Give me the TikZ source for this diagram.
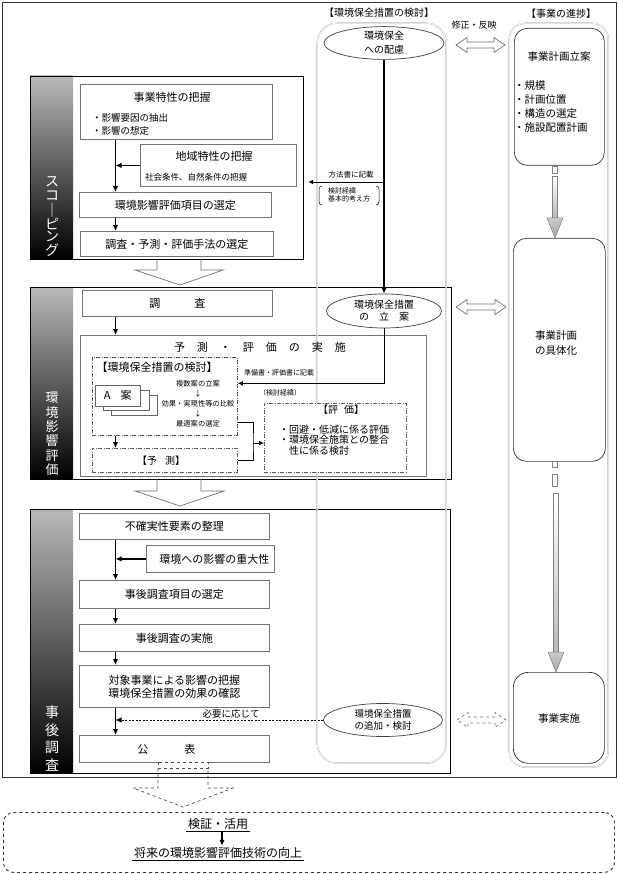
\documentclass[tikz,border=0pt]{standalone}
\usepackage{fontspec}
\setmainfont{Noto Sans CJK JP}
\usetikzlibrary{arrows.meta,shapes.geometric}
\newcommand{\fsz}[2]{\fontsize{#1}{#2}\selectfont}
\newcommand{\boxnode}[7][]{\node[#1, anchor=north west, minimum width={#4-#2}, minimum height={#5-#3}] (#6) at (#2,#3) {#7};}
\newcommand{\dblarrow}[4][]{\draw[#1] (#2,#4) -- ++(11,-7.5) -- ++(0,4.5) -- ({#3-11},{#4-3}) -- ++(0,-4.5) -- (#3,#4) -- ++(-11,7.5) -- ++(0,-4.5) -- ({#2+11},{#4+3}) -- ++(0,4.5) -- cycle;}
\newcommand{\garrow}[4]{\shade[top color=white, bottom color=gray!55, draw=gray, line width=0.5pt] ({#1-2.5},#2) rectangle ({#1+2.5},#3);
 \shade[top color=gray!40, bottom color=gray!70, draw=gray, line width=0.5pt] ({#1-8},#3) -- ({#1+8},#3) -- (#1,#4) -- cycle;}
\tikzset{
 frame/.style={draw=black!80, line width=0.9pt},
 sect/.style={draw=black, line width=1.2pt, inner sep=0pt},
 ibox/.style={draw=black!55, fill=white, line width=0.8pt, inner sep=0pt, font=\fsz{11}{13}},
 ddbox/.style={draw=black!65, dash pattern=on 4pt off 1.5pt on 1pt off 1.5pt, line width=0.8pt, inner sep=0pt},
 col/.style={draw=gray!60, double=white, double distance=0.7pt, line width=0.35pt, inner sep=0pt},
 rbox/.style={draw=black!80, fill=white, line width=0.7pt, rounded corners=13pt, inner sep=0pt},
 ell/.style={ellipse, draw=black!75, fill=white, line width=0.7pt, inner sep=0pt, align=center},
 flow/.style={-{Latex[length=6pt,width=5.5pt]}, line width=1.2pt},
 arr/.style={-{Latex[length=5pt,width=4.5pt]}, line width=0.7pt},
 harrow/.style={draw=black!55, line width=0.7pt},
 txt/.style={inner sep=0pt, align=center},
 striptxt/.style={inner sep=0pt, align=center, text=white},
}
\begin{document}
\begin{tikzpicture}[x=1pt,y=-1pt]
\useasboundingbox (0,0) rectangle (618,874);
\fill[white] (0,0) rectangle (618,874);
% outer frame
\draw[frame] (2,2) rectangle (616,777);
% strips
\shade[top color=gray!55, middle color=gray!15, bottom color=black] (30,76) rectangle (73,259);
\shade[top color=gray!55, middle color=gray!15, bottom color=black] (30,287) rectangle (73,479);
\shade[top color=gray!55, middle color=gray!15, bottom color=black] (30,509) rectangle (73,773);
% sections
\boxnode[sect]{30}{76}{303}{259}{S1}{}
\boxnode[sect]{30}{287}{451}{479}{S2}{}
\boxnode[sect]{30}{509}{450}{773}{S3}{}
\node[striptxt, font=\fsz{14}{14}] at (52,182) {ス};
\node[striptxt, font=\fsz{14}{14}] at (52,196) {コ};
\node[striptxt, font=\fsz{14}{14}] at (52,210) {｜};
\node[striptxt, font=\fsz{14}{14}] at (52,224) {ピ};
\node[striptxt, font=\fsz{14}{14}] at (52,237) {ン};
\node[striptxt, font=\fsz{14}{14}] at (52,250) {グ};
\node[striptxt, font=\fsz{13}{14.4}] at (52,434) {環\\境\\影\\響\\評\\価};
\node[striptxt, font=\fsz{14}{17.7}] at (52,738.5) {事\\後\\調\\査};
% prediction/evaluation frame
\boxnode[ibox]{80}{335}{426}{476}{B6}{}
% columns
\boxnode[col, rounded corners=20pt]{317}{23}{446}{763}{C1}{}
\boxnode[col, rounded corners=16pt]{509}{23}{608}{767}{C2}{}
\node[txt, font=\fsz{10}{12}] at (379,13) {【環境保全措置の検討】};
\node[txt, font=\fsz{10}{12}] at (561,14) {【事業の進捗】};
\node[txt, font=\fsz{9}{11}] at (474,25) {修正・反映};
% double arrows
\dblarrow[harrow, fill=white]{456}{505}{45}
\dblarrow[harrow, fill=white]{456}{506}{307}
\dblarrow[harrow, dashed, fill=white]{457}{506}{720}
% right column boxes
\boxnode[rbox]{514}{28}{604}{165}{P1}{}
\node[txt, font=\fsz{10.5}{12}] at (559,57) {事業計画立案};
\node[txt, anchor=west, align=left, font=\fsz{10.5}{14.3}] at (514,106.5) {・規模\\・計画位置\\・構造の選定\\・施設配置計画};
\boxnode[rbox]{513}{238}{605}{461}{P2}{}
\node[txt, font=\fsz{10.5}{15}] at (556,343) {事業計画\\の具体化};
\boxnode[rbox, rounded corners=15pt]{513}{672}{604}{763}{P3}{}
\node[txt, font=\fsz{10.5}{12}] at (559,719) {事業実施};
% gradient arrows
\draw[gray, fill=white, line width=0.5pt] (552.5,166) rectangle (557.5,173);
\garrow{555}{176}{218}{238}
\draw[gray, fill=white, line width=0.5pt] (552.5,461.5) rectangle (557.5,467);
\draw[gray, fill=white, line width=0.5pt] (552.5,474) rectangle (557.5,486);
\garrow{556}{493}{652}{672}
% scoping contents
\coordinate (L) at (115.5,0);
\boxnode[ibox]{80}{84}{272}{139}{B1}{}
\node[txt, font=\fsz{11}{13}] at (172,97) {事業特性の把握};
\node[txt, anchor=west, align=left, font=\fsz{9.5}{13}] at (92,124.5) {・影響要因の抽出\\・影響の想定};
\boxnode[ibox]{140}{144}{296}{186}{B2}{}
\node[txt, font=\fsz{11}{13}] at (214,156) {地域特性の把握};
\node[txt, font=\fsz{8.5}{10}] at (196,177) {社会条件、自然条件の把握};
\boxnode[ibox]{79}{192}{271}{217}{B3}{環境影響評価項目の選定}
\boxnode[ibox]{80}{231}{273}{256}{B4}{調査・予測・評価手法の選定}
\draw[flow] (B1.south -| L) -- (B3.north -| L);
\draw[flow] (B2.west) -- (B2.west -| L);
\draw[flow] (B3.south -| L) -- (B4.north -| L);
% hollow arrows between sections
\draw[harrow] (157,259) -- (157,270) -- (135,270) -- (180,285) -- (223,270) -- (201,270) -- (201,259);
\draw[harrow] (157,479) -- (157,491) -- (135,491) -- (180,506) -- (224,491) -- (201,491) -- (201,479);
% ellipses column
\node[ell, minimum width=120pt, minimum height=29pt, font=\fsz{10}{14}] (E1) at (384,43) {環境保全\\への配慮};
\node[ell, minimum width=115pt, minimum height=34pt, font=\fsz{10}{12}] (E2) at (384,311) {環境保全措置\\の\hspace{10pt}立\hspace{10pt}案};
\node[ell, minimum width=119pt, minimum height=33pt, font=\fsz{9.5}{12}] (E3) at (383,720) {環境保全措置\\の追加・検討};
\draw[flow] (E1.south) -- (E2.north);
\coordinate (M) at (384,182);
\draw[arr, shorten >=4pt] (M) -- (S1.east |- M);
\node[txt, font=\fsz{7.5}{9}] at (351,175) {方法書に記載};
\node[txt, font=\fsz{7}{8.5}, align=left] at (349,195) {検討経緯\\基本的考え方};
\draw[line width=0.5pt] (322,186) .. controls (319.5,186) and (319,187.5) .. (319,190) -- (319,201) .. controls (319,203.5) and (319.5,205) .. (322,205);
\draw[line width=0.5pt] (376,186) .. controls (378.5,186) and (379,187.5) .. (379,190) -- (379,201) .. controls (379,203.5) and (378.5,205) .. (376,205);
% assessment contents
\boxnode[ibox]{82}{290}{272}{316}{B5}{調\hspace{34pt}査}
\draw[flow] (B5.south -| L) -- (B6.north -| L);
\node[txt, font=\fsz{11}{13}] at (260,347) {予\hspace{12pt}測\hspace{12pt}・\hspace{12pt}評\hspace{12pt}価\hspace{12pt}の\hspace{12pt}実\hspace{12pt}施};
\boxnode[ddbox]{92}{357}{237}{435}{B7}{}
\node[txt, font=\fsz{11}{13}] at (157,367) {【環境保全措置の検討】};
\draw[black!60, fill=white, line width=0.6pt] (111,395) rectangle (157,415);
\draw[black!60, fill=white, line width=0.6pt] (103,390) rectangle (149,410);
\node[draw=black!60, fill=white, line width=0.6pt, anchor=north west, minimum width=45pt, minimum height=21pt, inner sep=0pt, font=\fsz{11}{13}] (CA) at (95,385) {A\hspace{10pt}案};
\node[txt, font=\fsz{7.3}{10}] at (198,404) {複数案の立案\\↓\\効果・実現性等の比較\\↓\\最適案の選定};
\boxnode[ddbox]{92}{448}{237}{472}{B8}{}
\node[txt, font=\fsz{10}{12}] at (161,461) {【予\hspace{8pt}測】};
\draw[flow] (B7.south -| L) -- (B8.north -| L);
\coordinate (J) at (253,443);
\boxnode[ddbox, fill=white]{264}{403}{406}{472}{B9}{}
\node[txt, font=\fsz{10}{12}] at (341,410) {【評\hspace{6pt}価】};
\node[txt, anchor=west, align=left, font=\fsz{10}{10.6}] at (279,440) {・回避・低減に係る評価\\・環境保全施策との整合\\\hspace{10pt}性に係る検討};
\draw[line width=0.7pt] ([yshift=-26pt]B7.east) -| (J) |- (B8.east);
\draw[arr] (J) -- (B9.west |- J);
\draw[arr] (E2.south) |- ([yshift=13pt]B7.east);
\node[txt, font=\fsz{7}{9}] at (279,373) {準備書・評価書に記載};
\node[txt, font=\fsz{7}{9}] at (280,393) {（検討経緯）};
% post survey contents
\boxnode[ibox]{79}{513}{269}{539}{B10}{不確実性要素の整理}
\boxnode[ibox]{146}{545}{274}{572}{B11}{\hspace{8pt}環境への影響の重大性}
\boxnode[ibox]{79}{580}{269}{608}{B12}{事後調査項目の選定}
\boxnode[ibox]{79}{624}{269}{651}{B13}{事後調査の実施}
\boxnode[ibox, align=center, font=\fsz{11}{13}]{79}{665}{269}{707}{B14}{対象事業による影響の把握\\環境保全措置の効果の確認}
\boxnode[ibox]{79}{735}{269}{762}{B15}{\hspace{-16pt}公\hspace{36pt}表}
\draw[flow] (B10.south -| L) -- (B12.north -| L);
\draw[flow] (B11.west) -- (B11.west -| L);
\draw[flow] (B12.south -| L) -- (B13.north -| L);
\draw[flow] (B13.south -| L) -- (B14.north -| L);
\draw[flow] (B14.south -| L) -- (B15.north -| L);
\draw[-{Latex[length=6pt,width=5.5pt]}, line width=0.9pt, dash pattern=on 2pt off 1.5pt] (E3.west) -- (E3.west -| L);
\node[txt, font=\fsz{9.5}{11}] at (231,714) {必要に応じて};
% bottom dashed arrow and box
\draw[black!70, dashed, fill=white, line width=0.6pt] (158,762) rectangle (208,768);
\draw[black!70, dashed, line width=0.7pt] (158,768) -- (158,788) -- (133,788) -- (183,807) -- (233,788) -- (208,788) -- (208,768);
\boxnode[draw=black!80, dashed, rounded corners=10pt, line width=0.9pt, inner sep=0pt]{3}{812}{614}{872}{BB}{}
\node[font=\fsz{12}{14}, inner sep=1.5pt] (V1) at (218,824) {検証・活用};
\node[font=\fsz{12}{14}, inner sep=1.5pt] (V2) at (218,853) {将来の環境影響評価技術の向上};
\draw[line width=0.6pt] (V1.south west) -- (V1.south east);
\draw[line width=0.6pt] (V2.south west) -- (V2.south east);
\draw[flow] ([xshift=4pt]V1.south) -- ([xshift=4pt]V2.north);
\end{tikzpicture}
\end{document}
